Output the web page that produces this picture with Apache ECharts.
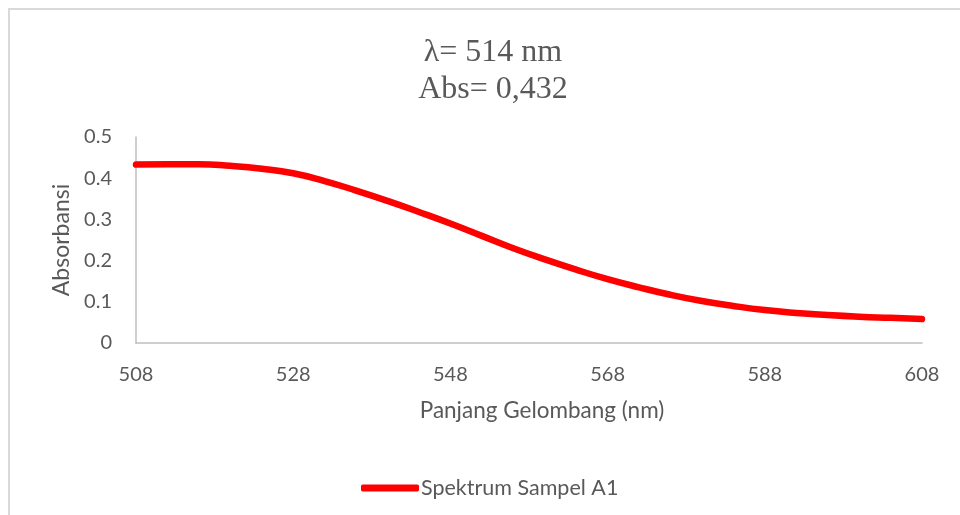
<!DOCTYPE html>
<html>
<head>
<meta charset="utf-8">
<script src="https://cdn.jsdelivr.net/npm/echarts@6/dist/echarts.min.js"></script>
<style>
html,body{margin:0;padding:0;background:#fff;}
#chart{width:960px;height:515px;}
</style>
</head>
<body>
<div id="chart"></div>
<script>
var wavelengths = [508,512,516,520,524,528,532,536,540,544,548,552,556,560,564,568,572,576,580,584,588,592,596,600,604,608];
var absorbance = [0.433,0.434,0.434,0.430,0.423,0.412,0.393,0.370,0.345,0.318,0.290,0.260,0.230,0.203,0.178,0.155,0.135,0.117,0.102,0.090,0.080,0.073,0.068,0.064,0.061,0.058];
var seriesName = 'Spektrum Sampel A1';
var titleText = '\u03bb= 514 nm\nAbs= 0,432';
var xName = 'Panjang Gelombang (nm)';
var yName = 'Absorbansi';

var chart = echarts.init(document.getElementById('chart'));
var labelColor = '#595959';
var font = 'Lato, "Open Sans", sans-serif';
chart.setOption({
  animation: false,
  backgroundColor: '#ffffff',
  graphic: [{
    type: 'rect',
    shape: {x: 9, y: 9, width: 990, height: 530},
    style: {fill: 'none', stroke: '#d9d9d9', lineWidth: 2},
    silent: true
  }],
  title: {
    text: titleText,
    left: 488,
    top: 29,
    textAlign: 'center',
    textStyle: {
      fontFamily: '"Liberation Serif", "Times New Roman", serif',
      fontSize: 32,
      fontWeight: 'normal',
      color: labelColor,
      lineHeight: 37
    }
  },
  grid: {left: 136, right: 38, top: 137, bottom: 172},
  xAxis: {
    type: 'category',
    data: wavelengths,
    boundaryGap: false,
    axisLine: {show: true, lineStyle: {color: '#bfbfbf', width: 1.5}},
    axisTick: {show: false},
    splitLine: {show: false},
    axisLabel: {interval: 4, color: labelColor, fontSize: 20, fontFamily: font, margin: 22},
    name: xName,
    nameLocation: 'middle',
    nameGap: 56,
    nameTextStyle: {color: labelColor, fontSize: 22.5, fontFamily: font, padding: [0, 0, 0, 26]}
  },
  yAxis: {
    type: 'value',
    min: 0,
    max: 0.5,
    interval: 0.1,
    axisLine: {show: true, lineStyle: {color: '#bfbfbf', width: 1.5}},
    axisTick: {show: false},
    splitLine: {show: false},
    axisLabel: {color: labelColor, fontSize: 20, fontFamily: font, margin: 24},
    name: yName,
    nameLocation: 'middle',
    nameRotate: 90,
    nameGap: 63,
    nameTextStyle: {color: labelColor, fontSize: 23, fontFamily: font}
  },
  legend: {
    data: [{name: seriesName, icon: 'roundRect'}],
    left: 356,
    top: 472,
    itemWidth: 58,
    itemHeight: 7,
    itemGap: 10,
    textStyle: {color: labelColor, fontSize: 21.5, fontFamily: font, padding: [0, 0, 0, -3]}
  },
  series: [{
    name: seriesName,
    type: 'line',
    data: absorbance,
    smooth: true,
    symbol: 'none',
    lineStyle: {color: '#ff0000', width: 6.5, cap: 'round'},
    itemStyle: {color: '#ff0000'}
  }]
});
</script>
</body>
</html>
